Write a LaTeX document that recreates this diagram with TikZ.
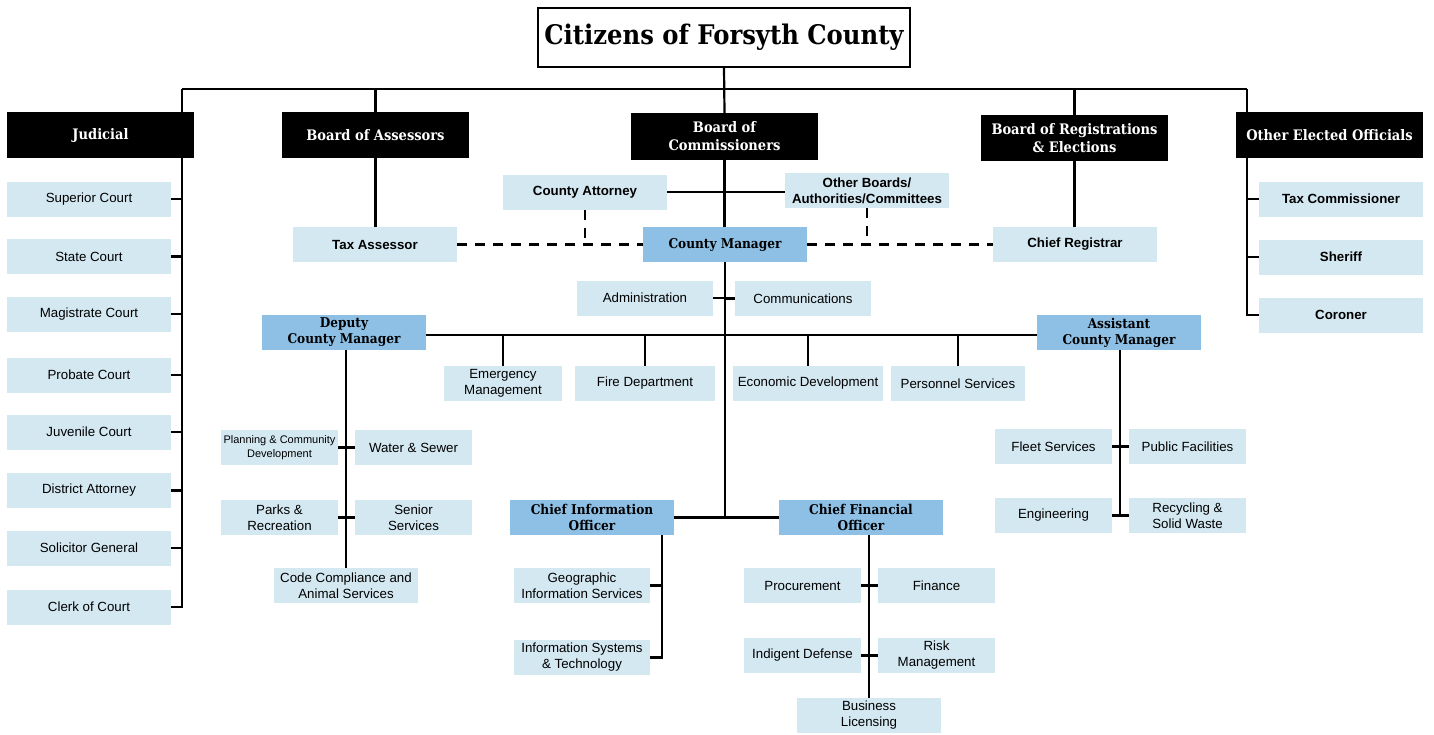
\documentclass[tikz,border=0pt]{standalone}
\usepackage{fontspec}
\setmainfont{Liberation Sans}
\newfontfamily\hd{DejaVu Serif Condensed}
\usetikzlibrary{backgrounds}
\definecolor{lightb}{RGB}{212,232,242}
\definecolor{midb}{RGB}{142,192,230}
\begin{document}
\begin{tikzpicture}[x=1pt,y=-1pt,
  lb/.style={fill=lightb,minimum height=35,inner sep=0,align=center,font=\fontsize{13.3}{16}\selectfont},
  lbb/.style={lb,font=\fontsize{13.3}{16}\selectfont\bfseries},
  sm/.style={lb,font=\fontsize{11}{14}\selectfont},
  mb/.style={fill=midb,minimum width=164,minimum height=35,inner sep=0,align=center,font=\hd\bfseries\fontsize{13.5}{16}\selectfont},
  blk/.style={fill=black,text=white,minimum width=187,minimum height=46,inner sep=0,align=center,font=\hd\bfseries\fontsize{14.5}{18}\selectfont},
  conn/.style={line width=2.2pt},
  dsh/.style={line width=2.2pt,dash pattern=on 10pt off 8pt}]
\useasboundingbox (0,0) rectangle (1434,734);
% title
\node[draw=black,line width=2.2pt,fill=white,minimum width=372,minimum height=59,inner sep=0,font=\hd\bfseries\fontsize{27}{30}\selectfont] (title) at (724,37.5) {Citizens of Forsyth County};
% top row
\node[blk] (jud) at (100.5,135) {Judicial};
\node[blk] (boa) at (375.5,135) {Board of Assessors};
\node[blk,minimum height=47] (boc) at (724.5,136.5) {Board of\\Commissioners};
\node[blk] (bre) at (1074.5,138) {Board of Registrations\\\& Elections};
\node[blk] (oeo) at (1329.5,135) {Other Elected Officials};
% judicial children
\node[lb,minimum width=164] (j1) at (89,199) {Superior Court};
\node[lb,minimum width=164] (j2) at (89,256.5) {State Court};
\node[lb,minimum width=164] (j3) at (89,314) {Magistrate Court};
\node[lb,minimum width=164] (j4) at (89,375) {Probate Court};
\node[lb,minimum width=164] (j5) at (89,432) {Juvenile Court};
\node[lb,minimum width=164] (j6) at (89,490.5) {District Attorney};
\node[lb,minimum width=164] (j7) at (89,548) {Solicitor General};
\node[lb,minimum width=164] (j8) at (89,607) {Clerk of Court};
% other elected
\node[lbb,minimum width=164] (o1) at (1341,199) {Tax Commissioner};
\node[lbb,minimum width=164] (o2) at (1341,257) {Sheriff};
\node[lbb,minimum width=164] (o3) at (1341,315) {Coroner};
% county level
\node[lbb,minimum width=164] (ca) at (585,192) {County Attorney};
\node[lbb,minimum width=164] (ob) at (867,190.5) {Other Boards/\\Authorities/Committees};
\node[lbb,minimum width=164] (ta) at (375,244.5) {Tax Assessor};
\node[mb] (cm) at (725,244.5) {County Manager};
\node[lbb,minimum width=164] (cr) at (1075,244.5) {Chief Registrar};
\node[lb,minimum width=136] (adm) at (645,298) {Administration};
\node[lb,minimum width=136] (com) at (803,298.5) {Communications};
\node[mb] (dcm) at (344,332.5) {Deputy\\County Manager};
\node[mb] (acm) at (1119,332.5) {Assistant\\County Manager};
\node[lb,minimum width=118] (em) at (503,383.5) {Emergency\\Management};
\node[lb,minimum width=140] (fd) at (645,383.5) {Fire Department};
\node[lb,minimum width=150] (ed) at (808,383.5) {Economic Development};
\node[lb,minimum width=134] (ps) at (958,383.5) {Personnel Services};
% deputy children
\node[sm,minimum width=117] (pcd) at (279.5,447.5) {Planning \& Community\\Development};
\node[lb,minimum width=117] (ws) at (413.5,447.5) {Water \& Sewer};
\node[lb,minimum width=117] (pr) at (279.5,517.5) {Parks \&\\Recreation};
\node[lb,minimum width=117] (ss) at (413.5,517.5) {Senior\\Services};
\node[lb,minimum width=144] (cc) at (346,585.5) {Code Compliance and\\Animal Services};
% CIO / CFO
\node[mb] (cio) at (592,517.5) {Chief Information\\Officer};
\node[mb] (cfo) at (861,517.5) {Chief Financial\\Officer};
\node[lb,minimum width=136] (gis) at (582,585.5) {Geographic\\Information Services};
\node[lb,minimum width=136] (ist) at (582,657.5) {Information Systems\\\& Technology};
\node[lb,minimum width=117] (proc) at (802.5,585.5) {Procurement};
\node[lb,minimum width=117] (fin) at (936.5,585.5) {Finance};
\node[lb,minimum width=117] (ind) at (802.5,655.5) {Indigent Defense};
\node[lb,minimum width=117] (risk) at (936.5,655.5) {Risk\\Management};
\node[lb,minimum width=144] (bl) at (869,715.5) {Business\\Licensing};
% assistant children
\node[lb,minimum width=117] (fleet) at (1053.5,446.5) {Fleet Services};
\node[lb,minimum width=117] (pf) at (1187.5,446.5) {Public Facilities};
\node[lb,minimum width=117] (eng) at (1053.5,515.5) {Engineering};
\node[lb,minimum width=117] (rsw) at (1187.5,515.5) {Recycling \&\\Solid Waste};
\coordinate (tl) at (182,89);
\coordinate (tr) at (1247,89);
\coordinate (cv) at (662,0);
\coordinate (av) at (1120,0);
\coordinate (hz) at (0,335);
\begin{pgfonlayer}{background}
\draw[conn] (title.south) -- (boc.north);
\draw[conn] (tl) -- (tr);
\draw[conn] (tl) -- (tl |- j8.east) -- (j8.east);
\foreach \n in {j1,j2,j3,j4,j5,j6,j7} \draw[conn] (\n.east) -- (\n.east -| tl);
\draw[conn] (tr) -- (tr |- o3.west) -- (o3.west);
\foreach \n in {o1,o2} \draw[conn] (\n.west) -- (\n.west -| tr);
\draw[conn] (boa.north |- tl) -- (boa.north);
\draw[conn] (boa.south) -- (boa.south |- ta.north);
\draw[conn] (bre.north |- tl) -- (bre.north);
\draw[conn] (bre.south) -- (bre.south |- cr.north);
\draw[conn] (boc.south) -- (boc.south |- cm.north);
\draw[conn] (ca.east) -- (ca.east -| ob.west);
\draw[dsh] (ta.east) -- (cm.west);
\draw[dsh] (ca.south) -- (ca.south |- cm.west);
\draw[dsh] (cm.east) -- (cr.west);
\draw[dsh] (ob.south) -- (ob.south |- cm.east);
\draw[conn] (cm.south) -- (cm.south |- cio.east);
\draw[conn] (cio.east) -- (cfo.west);
\draw[conn] (adm.east) -- (adm.east -| cm.south);
\draw[conn] (com.west) -- (com.west -| cm.south);
\draw[conn] (dcm.east |- hz) -- (acm.west |- hz);
\foreach \n in {em,fd,ed,ps} \draw[conn] (\n.north) -- (\n.north |- hz);
\draw[conn] (cc.north |- dcm.south) -- (cc.north);
\draw[conn] (pcd.east) -- (ws.west);
\draw[conn] (pr.east) -- (ss.west);
\draw[conn] (cv |- cio.south) -- (cv |- ist.east) -- (ist.east);
\draw[conn] (gis.east) -- (gis.east -| cv);
\draw[conn] (bl.north |- cfo.south) -- (bl.north);
\draw[conn] (proc.east) -- (fin.west);
\draw[conn] (ind.east) -- (risk.west);
\draw[conn] (av |- acm.south) -- (av |- eng.east);
\draw[conn] (fleet.east) -- (pf.west);
\draw[conn] (eng.east) -- (rsw.west);
\end{pgfonlayer}
\end{tikzpicture}
\end{document}
